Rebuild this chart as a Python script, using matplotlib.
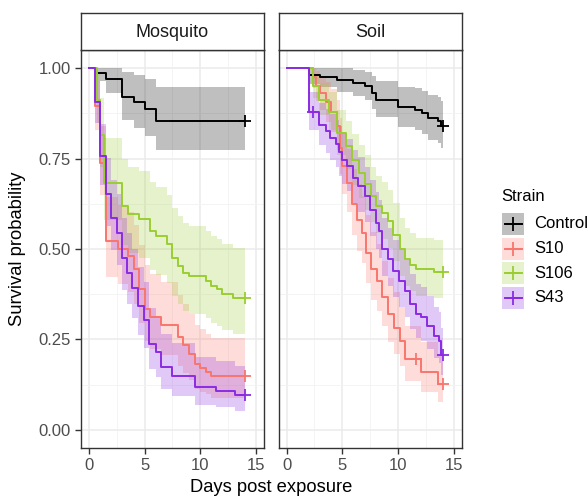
import matplotlib
matplotlib.use("Agg")
import matplotlib.pyplot as plt
from matplotlib.patches import Rectangle
from matplotlib.ticker import MultipleLocator

plt.rcParams['font.family'] = ['Liberation Sans', 'DejaVu Sans']

strains = ["Control", "S10", "S106", "S43"]
colors = ["#000000", "#F8766D", "#9ACD32", "#8A2BE2"]
facets = ["Mosquito", "Soil"]

# Mosquito: Kaplan-Meier steps (time, survival, lower, upper)
mos_ctrl_t = [0, 0.5, 1.5, 3.0, 4.0, 5.0, 6.0, 14]
mos_ctrl_s = [1, 0.986, 0.970, 0.920, 0.905, 0.887, 0.855, 0.855]
mos_ctrl_lo = [1, 0.963, 0.931, 0.857, 0.834, 0.813, 0.775, 0.775]
mos_ctrl_hi = [1, 1.0, 1.0, 0.988, 0.980, 0.970, 0.947, 0.947]

mos_s10_t = [0, 0.5, 1.0, 1.5, 2.6, 3.5, 4.0, 4.5, 5.0, 5.5, 6.5, 8.0, 8.5, 9.0, 9.5, 10.0, 10.5, 11.0, 14]
mos_s10_s = [1, 0.894, 0.738, 0.522, 0.500, 0.480, 0.444, 0.389, 0.334, 0.311, 0.290, 0.256, 0.234, 0.210, 0.182, 0.172, 0.161, 0.150, 0.150]
mos_s10_lo = [1, 0.829, 0.648, 0.423, 0.402, 0.382, 0.347, 0.296, 0.245, 0.225, 0.206, 0.176, 0.157, 0.137, 0.114, 0.106, 0.098, 0.089, 0.089]
mos_s10_hi = [1, 0.964, 0.840, 0.644, 0.622, 0.603, 0.567, 0.512, 0.455, 0.431, 0.409, 0.372, 0.348, 0.321, 0.290, 0.278, 0.265, 0.253, 0.253]

mos_s106_t = [0, 0.7, 1.0, 1.3, 3.0, 3.5, 4.5, 5.5, 6.0, 7.0, 7.5, 8.0, 8.5, 9.0, 10.5, 11.0, 11.5, 12.0, 13.0, 14]
mos_s106_s = [1, 0.913, 0.816, 0.683, 0.618, 0.596, 0.582, 0.550, 0.536, 0.513, 0.476, 0.453, 0.435, 0.424, 0.412, 0.398, 0.389, 0.376, 0.365, 0.365]
mos_s106_lo = [1, 0.847, 0.727, 0.579, 0.510, 0.488, 0.474, 0.441, 0.427, 0.405, 0.369, 0.347, 0.330, 0.320, 0.308, 0.295, 0.287, 0.275, 0.265, 0.265]
mos_s106_hi = [1, 0.984, 0.916, 0.806, 0.748, 0.728, 0.715, 0.685, 0.672, 0.650, 0.614, 0.592, 0.573, 0.563, 0.551, 0.537, 0.527, 0.514, 0.503, 0.503]

mos_s43_t = [0, 0.5, 1.0, 1.5, 2.0, 2.5, 3.0, 3.4, 3.9, 4.4, 4.9, 5.4, 6.0, 6.5, 7.5, 9.5, 11.4, 13.1, 14]
mos_s43_s = [1, 0.905, 0.756, 0.651, 0.586, 0.545, 0.476, 0.435, 0.393, 0.343, 0.305, 0.237, 0.214, 0.173, 0.150, 0.118, 0.108, 0.096, 0.096]
mos_s43_lo = [1, 0.849, 0.676, 0.564, 0.497, 0.456, 0.388, 0.348, 0.308, 0.261, 0.227, 0.167, 0.147, 0.113, 0.094, 0.069, 0.062, 0.053, 0.053]
mos_s43_hi = [1, 0.964, 0.845, 0.751, 0.691, 0.652, 0.585, 0.544, 0.501, 0.450, 0.410, 0.337, 0.312, 0.266, 0.239, 0.202, 0.190, 0.177, 0.177]

# Soil
soil_ctrl_t = [0, 2.0, 3.0, 4.5, 6.0, 7.0, 7.7, 8.0, 10.0, 11.5, 12.2, 12.7, 13.6, 13.9, 14]
soil_ctrl_s = [1, 0.981, 0.975, 0.966, 0.959, 0.950, 0.931, 0.913, 0.892, 0.885, 0.876, 0.862, 0.853, 0.841, 0.841]
soil_ctrl_lo = [1, 0.957, 0.948, 0.934, 0.924, 0.912, 0.887, 0.864, 0.838, 0.829, 0.819, 0.802, 0.792, 0.778, 0.778]
soil_ctrl_hi = [1, 1.0, 1.0, 0.999, 0.995, 0.990, 0.978, 0.965, 0.949, 0.944, 0.937, 0.926, 0.919, 0.909, 0.909]

soil_s10_t = [0, 2.4, 2.6, 3.0, 3.5, 4.0, 4.5, 4.8, 5.0, 5.4, 5.9, 6.3, 6.8, 7.1, 7.6, 8.1, 8.6, 9.1, 9.6, 10.15, 10.6, 12.1, 13.6, 14]
soil_s10_s = [1, 0.975, 0.950, 0.931, 0.905, 0.880, 0.840, 0.780, 0.730, 0.683, 0.623, 0.580, 0.545, 0.490, 0.444, 0.412, 0.366, 0.320, 0.283, 0.246, 0.196, 0.159, 0.127, 0.127]
soil_s10_lo = [1, 0.946, 0.910, 0.885, 0.851, 0.822, 0.774, 0.706, 0.651, 0.601, 0.538, 0.495, 0.460, 0.405, 0.360, 0.330, 0.286, 0.244, 0.210, 0.177, 0.134, 0.104, 0.078, 0.078]
soil_s10_hi = [1, 1.0, 0.992, 0.979, 0.962, 0.942, 0.911, 0.861, 0.818, 0.776, 0.721, 0.680, 0.646, 0.593, 0.547, 0.515, 0.468, 0.420, 0.381, 0.341, 0.286, 0.244, 0.207, 0.207]

soil_s106_t = [0, 2.4, 2.9, 3.8, 4.5, 5.3, 5.9, 6.5, 7.0, 7.6, 8.0, 8.6, 9.1, 9.55, 10.15, 10.6, 11.1, 11.6, 13.2, 14]
soil_s106_s = [1, 0.950, 0.913, 0.880, 0.820, 0.784, 0.745, 0.710, 0.680, 0.646, 0.618, 0.600, 0.577, 0.540, 0.499, 0.471, 0.456, 0.444, 0.437, 0.437]
soil_s106_lo = [1, 0.916, 0.869, 0.829, 0.761, 0.721, 0.678, 0.641, 0.609, 0.574, 0.545, 0.527, 0.503, 0.466, 0.425, 0.397, 0.383, 0.371, 0.364, 0.364]
soil_s106_hi = [1, 0.986, 0.959, 0.934, 0.884, 0.853, 0.818, 0.787, 0.759, 0.727, 0.701, 0.684, 0.662, 0.626, 0.586, 0.558, 0.543, 0.531, 0.524, 0.524]

soil_s43_t = [0, 2.0, 2.9, 3.5, 3.9, 4.4, 4.7, 5.0, 5.45, 6.0, 6.45, 7.0, 7.5, 8.0, 8.3, 8.6, 9.1, 9.55, 10.1, 10.6, 11.1, 11.6, 12.1, 12.6, 13.2, 13.7, 13.9, 14]
soil_s43_s = [1, 0.880, 0.844, 0.825, 0.807, 0.789, 0.768, 0.747, 0.729, 0.697, 0.674, 0.646, 0.609, 0.573, 0.550, 0.499, 0.471, 0.439, 0.412, 0.384, 0.347, 0.320, 0.311, 0.288, 0.260, 0.246, 0.207, 0.207]
soil_s43_lo = [1, 0.829, 0.788, 0.766, 0.746, 0.726, 0.703, 0.681, 0.661, 0.627, 0.603, 0.574, 0.536, 0.499, 0.476, 0.425, 0.397, 0.366, 0.340, 0.313, 0.279, 0.253, 0.245, 0.224, 0.199, 0.186, 0.151, 0.151]
soil_s43_hi = [1, 0.934, 0.904, 0.888, 0.873, 0.857, 0.839, 0.820, 0.804, 0.775, 0.753, 0.727, 0.692, 0.658, 0.636, 0.586, 0.558, 0.526, 0.499, 0.470, 0.432, 0.404, 0.395, 0.370, 0.341, 0.326, 0.283, 0.283]

# extra censoring marks (facet, strain, time, survival)
extra_censor = [("Soil", "S43", 2.4, 0.880), ("Soil", "S10", 11.6, 0.196)]

curves = {
    "Mosquito": [
        (mos_ctrl_t, mos_ctrl_s, mos_ctrl_lo, mos_ctrl_hi),
        (mos_s10_t, mos_s10_s, mos_s10_lo, mos_s10_hi),
        (mos_s106_t, mos_s106_s, mos_s106_lo, mos_s106_hi),
        (mos_s43_t, mos_s43_s, mos_s43_lo, mos_s43_hi),
    ],
    "Soil": [
        (soil_ctrl_t, soil_ctrl_s, soil_ctrl_lo, soil_ctrl_hi),
        (soil_s10_t, soil_s10_s, soil_s10_lo, soil_s10_hi),
        (soil_s106_t, soil_s106_s, soil_s106_lo, soil_s106_hi),
        (soil_s43_t, soil_s43_s, soil_s43_lo, soil_s43_hi),
    ],
}

W, H = 588, 500
fig = plt.figure(figsize=(W / 100, H / 100), dpi=100)

panel_x = [(81, 264), (278.5, 462)]
panel_top, panel_bot = 50, 448
strip_top = 13
dark = "#333333"

for k, facet in enumerate(facets):
    x0, x1 = panel_x[k]
    ax = fig.add_axes([x0 / W, 1 - panel_bot / H, (x1 - x0) / W, (panel_bot - panel_top) / H])
    ax.set_xlim(-0.73, 15.75)
    ax.set_ylim(-0.05, 1.05)
    ax.xaxis.set_major_locator(MultipleLocator(5))
    ax.xaxis.set_minor_locator(MultipleLocator(2.5))
    ax.yaxis.set_major_locator(MultipleLocator(0.25))
    ax.yaxis.set_minor_locator(MultipleLocator(0.125))
    ax.grid(which="major", color="#EBEBEB", lw=1.1)
    ax.grid(which="minor", color="#F3F3F3", lw=0.6)
    ax.set_axisbelow(True)
    for sp in ax.spines.values():
        sp.set_color(dark)
        sp.set_linewidth(1.0)
    ax.tick_params(which="major", direction="out", length=4.5, width=1.0, color=dark,
                   labelcolor="#4D4D4D", labelsize=12, pad=3)
    ax.tick_params(which="minor", length=0)
    ax.yaxis.set_major_formatter(matplotlib.ticker.FuncFormatter(lambda v, p: "%.2f" % v))
    if k == 1:
        ax.tick_params(axis="y", which="both", length=0, labelleft=False)

    for (t, s, lo, hi), col in zip(curves[facet], colors):
        ax.fill_between(t, lo, hi, step="post", color=col, alpha=0.25, lw=0)
    for (t, s, lo, hi), col, name in zip(curves[facet], colors, strains):
        ax.step(t, s, where="post", color=col, lw=1.4)
        ax.plot([t[-1]], [s[-1]], marker="+", ms=8, mew=1.3, color=col)
        for f, st, ct, cs in extra_censor:
            if f == facet and st == name:
                ax.plot([ct], [cs], marker="+", ms=8, mew=1.3, color=col)

    sax = fig.add_axes([x0 / W, 1 - panel_top / H, (x1 - x0) / W, (panel_top - strip_top) / H])
    sax.set_xticks([])
    sax.set_yticks([])
    sax.set_facecolor("white")
    for sp in sax.spines.values():
        sp.set_color(dark)
        sp.set_linewidth(1.0)
    sax.text(0.5, 0.48, facet, ha="center", va="center", fontsize=13, color="#1A1A1A",
             transform=sax.transAxes)

fig.text(271.5 / W, 1 - 488 / H, "Days post exposure", ha="center", va="center", fontsize=13.2)
fig.text(18 / W, 1 - 249 / H, "Survival probability", ha="center", va="center",
         rotation=90, fontsize=13.2)

# legend
lax = fig.add_axes([0, 0, 1, 1])
lax.set_xlim(0, W)
lax.set_ylim(H, 0)
lax.axis("off")
lax.text(501.5, 196.5, "Strain", ha="left", va="center", fontsize=12)
key_y = [224, 248.7, 273.3, 298]
for yc, col, name in zip(key_y, colors, strains):
    lax.add_patch(Rectangle((502, yc - 11), 22, 22, facecolor=col, alpha=0.25, lw=0))
    lax.plot([504.5, 521.5], [yc, yc], color=col, lw=1.4)
    lax.plot([513], [yc], marker="+", ms=10, mew=1.3, color=col)
    lax.text(534, yc, name, ha="left", va="center", fontsize=12)

fig.savefig("out.png", dpi=100)
